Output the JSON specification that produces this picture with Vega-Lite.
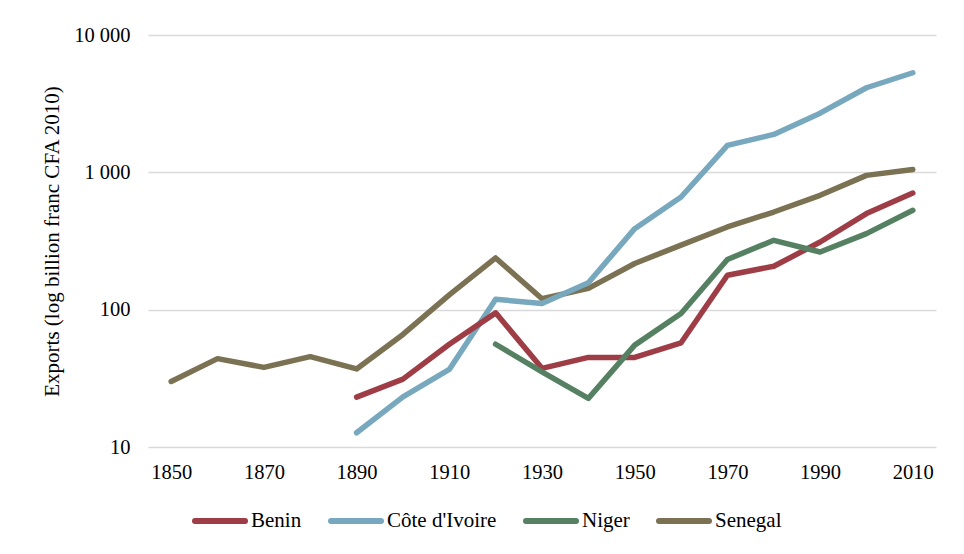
{
  "$schema": "https://vega.github.io/schema/vega-lite/v6.json",
  "width": 788,
  "height": 412,
  "autosize": {"type": "none"},
  "padding": {"left": 148, "top": 35, "right": 28, "bottom": 107},
  "background": "white",
  "config": {
    "font": "Liberation Serif",
    "view": {"stroke": null},
    "axis": {"labelFont": "Liberation Serif", "titleFont": "Liberation Serif", "labelColor": "#000000", "titleColor": "#000000", "titleFontWeight": "normal"},
    "legend": {"labelFont": "Liberation Serif", "titleFont": "Liberation Serif", "labelColor": "#000000"}
  },
  "data": {
    "values": [
      {"year": 1850, "country": "Senegal", "value": 30},
      {"year": 1860, "country": "Senegal", "value": 44},
      {"year": 1870, "country": "Senegal", "value": 38},
      {"year": 1880, "country": "Senegal", "value": 45.5},
      {"year": 1890, "country": "Senegal", "value": 37},
      {"year": 1900, "country": "Senegal", "value": 66},
      {"year": 1910, "country": "Senegal", "value": 128},
      {"year": 1920, "country": "Senegal", "value": 238},
      {"year": 1930, "country": "Senegal", "value": 120},
      {"year": 1940, "country": "Senegal", "value": 143},
      {"year": 1950, "country": "Senegal", "value": 217},
      {"year": 1960, "country": "Senegal", "value": 295},
      {"year": 1970, "country": "Senegal", "value": 400},
      {"year": 1980, "country": "Senegal", "value": 514},
      {"year": 1990, "country": "Senegal", "value": 680},
      {"year": 2000, "country": "Senegal", "value": 950},
      {"year": 2010, "country": "Senegal", "value": 1047},
      {"year": 1890, "country": "Côte d'Ivoire", "value": 12.7},
      {"year": 1900, "country": "Côte d'Ivoire", "value": 23.2},
      {"year": 1910, "country": "Côte d'Ivoire", "value": 36.7},
      {"year": 1920, "country": "Côte d'Ivoire", "value": 119},
      {"year": 1930, "country": "Côte d'Ivoire", "value": 111},
      {"year": 1940, "country": "Côte d'Ivoire", "value": 157},
      {"year": 1950, "country": "Côte d'Ivoire", "value": 389},
      {"year": 1960, "country": "Côte d'Ivoire", "value": 661},
      {"year": 1970, "country": "Côte d'Ivoire", "value": 1571},
      {"year": 1980, "country": "Côte d'Ivoire", "value": 1888},
      {"year": 1990, "country": "Côte d'Ivoire", "value": 2698},
      {"year": 2000, "country": "Côte d'Ivoire", "value": 4130},
      {"year": 2010, "country": "Côte d'Ivoire", "value": 5310},
      {"year": 1890, "country": "Benin", "value": 23.1},
      {"year": 1900, "country": "Benin", "value": 31.2},
      {"year": 1910, "country": "Benin", "value": 56},
      {"year": 1920, "country": "Benin", "value": 94.8},
      {"year": 1930, "country": "Benin", "value": 37.4},
      {"year": 1940, "country": "Benin", "value": 44.9},
      {"year": 1950, "country": "Benin", "value": 44.9},
      {"year": 1960, "country": "Benin", "value": 57.4},
      {"year": 1970, "country": "Benin", "value": 178},
      {"year": 1980, "country": "Benin", "value": 207},
      {"year": 1990, "country": "Benin", "value": 311},
      {"year": 2000, "country": "Benin", "value": 501},
      {"year": 2010, "country": "Benin", "value": 707},
      {"year": 1920, "country": "Niger", "value": 56},
      {"year": 1930, "country": "Niger", "value": 35.3},
      {"year": 1940, "country": "Niger", "value": 22.6},
      {"year": 1950, "country": "Niger", "value": 55.2},
      {"year": 1960, "country": "Niger", "value": 93.8},
      {"year": 1970, "country": "Niger", "value": 232},
      {"year": 1980, "country": "Niger", "value": 320},
      {"year": 1990, "country": "Niger", "value": 263},
      {"year": 2000, "country": "Niger", "value": 358},
      {"year": 2010, "country": "Niger", "value": 529}
    ]
  },
  "mark": {"type": "line", "strokeWidth": 5.5, "strokeCap": "round", "strokeJoin": "round"},
  "encoding": {
    "x": {
      "field": "year",
      "type": "quantitative",
      "scale": {"domain": [1845, 2015], "nice": false, "zero": false},
      "axis": {
        "title": null,
        "values": [1850, 1870, 1890, 1910, 1930, 1950, 1970, 1990, 2010],
        "format": "d",
        "grid": false,
        "ticks": false,
        "domain": false,
        "labelFontSize": 20.5,
        "labelPadding": 15,
        "labelFlush": false
      }
    },
    "y": {
      "field": "value",
      "type": "quantitative",
      "scale": {"type": "log", "domain": [10, 10000], "nice": false},
      "axis": {
        "title": "Exports (log billion franc CFA 2010)",
        "titleFontSize": 21,
        "titleX": -90,
        "titleY": 206,
        "titleAngle": -90,
        "titleAlign": "center",
        "titleBaseline": "alphabetic",
        "values": [10, 100, 1000, 10000],
        "labelExpr": "datum.value >= 1000 ? format(datum.value / 1000, 'd') + ' 000' : format(datum.value, 'd')",
        "grid": true,
        "gridColor": "#d9d9d9",
        "gridWidth": 1.5,
        "ticks": false,
        "domain": false,
        "labelFontSize": 20.5,
        "labelPadding": 18,
        "labelFlush": false
      }
    },
    "color": {
      "field": "country",
      "type": "nominal",
      "scale": {
        "domain": ["Benin", "Côte d'Ivoire", "Niger", "Senegal"],
        "range": ["#9E3D45", "#77A8BE", "#558162", "#7B7253"]
      },
      "legend": {
        "title": null,
        "orient": "none",
        "direction": "horizontal",
        "legendX": 44,
        "legendY": 458,
        "symbolType": "stroke",
        "symbolSize": 2500,
        "symbolStrokeWidth": 6,
        "labelFontSize": 21,
        "labelOffset": 3,
        "columnPadding": 17,
        "gridAlign": "none",
        "padding": 0,
        "encode": {"symbols": {"update": {"strokeCap": {"value": "round"}}}}
      }
    }
  }
}
